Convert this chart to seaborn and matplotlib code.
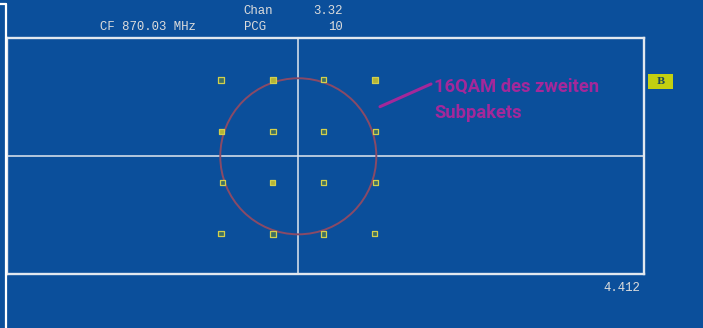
import matplotlib
matplotlib.use("Agg")
import matplotlib.pyplot as plt
from matplotlib.lines import Line2D
from matplotlib.patches import Circle, Rectangle
import numpy as np
import pandas as pd
import seaborn as sns

# Measured 16QAM symbol positions of the second sub-packet (I / Q)
i_vals = [-3.04, -0.99, 0.98, 3.00,
          -3.02, -1.00, 0.98, 3.02,
          -2.98, -1.02, 0.98, 3.02,
          -3.04, -1.00, 0.98, 2.99]
q_vals = [3.00, 2.99, 3.02, 2.99,
          0.98, 0.98, 0.98, 0.98,
          -1.02, -1.02, -1.02, -1.02,
          -3.02, -3.05, -3.05, -3.02]
symbol_state = ["ref", "hit", "ref", "hit",
                "hit", "ref", "ref", "ref",
                "ref", "hit", "ref", "ref",
                "ref", "ref", "ref", "ref"]
ref_radius = 3.06

header_labels = ["Chan", "PCG"]
header_values = ["3.32", "10"]
center_freq = "CF 870.03 MHz"
scale_label = "4.412"
marker_label = "B"
note_lines = ["16QAM des zweiten", "Subpakets"]

BG = "#0b4f9b"
LINE = "#e2e8ef"
TXT = "#dcdcdc"
MAGENTA = "#a4289a"

W, H = 703, 328
sns.set_theme(style="white")
fig = plt.figure(figsize=(W / 100, H / 100), dpi=100, facecolor=BG)


def fx(x):
    return x / W


def fy(y):
    return 1 - y / H


# plot frame in pixel placement
x0, x1, y0, y1 = 7, 644, 38, 274
ax = fig.add_axes([fx(x0), fy(y1), fx(x1) - fx(x0), fy(y0) - fy(y1)])
ax.set_facecolor(BG)
unit = 25.5
cx, cy = 298.3, 156.3
ax.set_xlim((x0 - cx) / unit, (x1 - cx) / unit)
ax.set_ylim(-(y1 - cy) / unit, (cy - y0) / unit)
ax.set_xticks([])
ax.set_yticks([])
for s in ax.spines.values():
    s.set_color(LINE)
    s.set_linewidth(1.7)

ax.axhline(0, color=LINE, lw=1.1, zorder=1)
ax.axvline(0, color=LINE, lw=1.1, zorder=1)
ax.add_patch(Circle((0, 0), ref_radius, fill=False, ec="#8a4a66", lw=1.4, zorder=2))

df = pd.DataFrame({"I": i_vals, "Q": q_vals, "state": symbol_state})
sns.scatterplot(data=df, x="I", y="Q", hue="state", style="state",
                markers={"ref": "s", "hit": "s"},
                palette={"ref": "#3d7064", "hit": "#b4b436"},
                edgecolor="#d2cf4c", linewidth=0.9, s=16, legend=False,
                ax=ax, zorder=4)
ax.set_xlabel("")
ax.set_ylabel("")

# left bracket line outside the frame
fig.add_artist(Line2D([fx(0), fx(6)], [fy(4), fy(4)], color="white", lw=1.6))
fig.add_artist(Line2D([fx(6), fx(6)], [fy(4), fy(330)], color="white", lw=1.6))

mono = dict(family=["Liberation Mono", "DejaVu Sans Mono"], color=TXT,
            fontsize=8.9, va="baseline")
fig.text(fx(243.5), fy(14), header_labels[0], ha="left", **mono)
fig.text(fx(343), fy(14), header_values[0], ha="right", **mono)
fig.text(fx(243.5), fy(30.5), header_labels[1], ha="left", **mono)
fig.text(fx(343), fy(30.5), header_values[1], ha="right", **mono)
fig.text(fx(99.5), fy(30.5), center_freq, ha="left", **mono)
fig.text(fx(640), fy(290.7), scale_label, ha="right", **mono)

# marker box to the right of the frame
fig.add_artist(Rectangle((fx(648), fy(89)), fx(25), fy(74) - fy(89),
                         transform=fig.transFigure, fc="#c3d010", ec="none"))
fig.text(fx(660.5), fy(82), marker_label, ha="center", va="center",
         family=["DejaVu Serif"], fontweight="bold", fontsize=7, color="#1d4a5a")

# annotation
fig.add_artist(Line2D([fx(380), fx(431)], [fy(106.7), fy(84)], color=MAGENTA, lw=2.2))
note = dict(family=["Roboto", "DejaVu Sans"],
            fontweight="bold", fontsize=13.2, color=MAGENTA, ha="left", va="baseline")
fig.text(fx(434), fy(92), note_lines[0], **note)
fig.text(fx(434), fy(118.5), note_lines[1], **note)

fig.savefig("out.png", dpi=100, facecolor=BG)
